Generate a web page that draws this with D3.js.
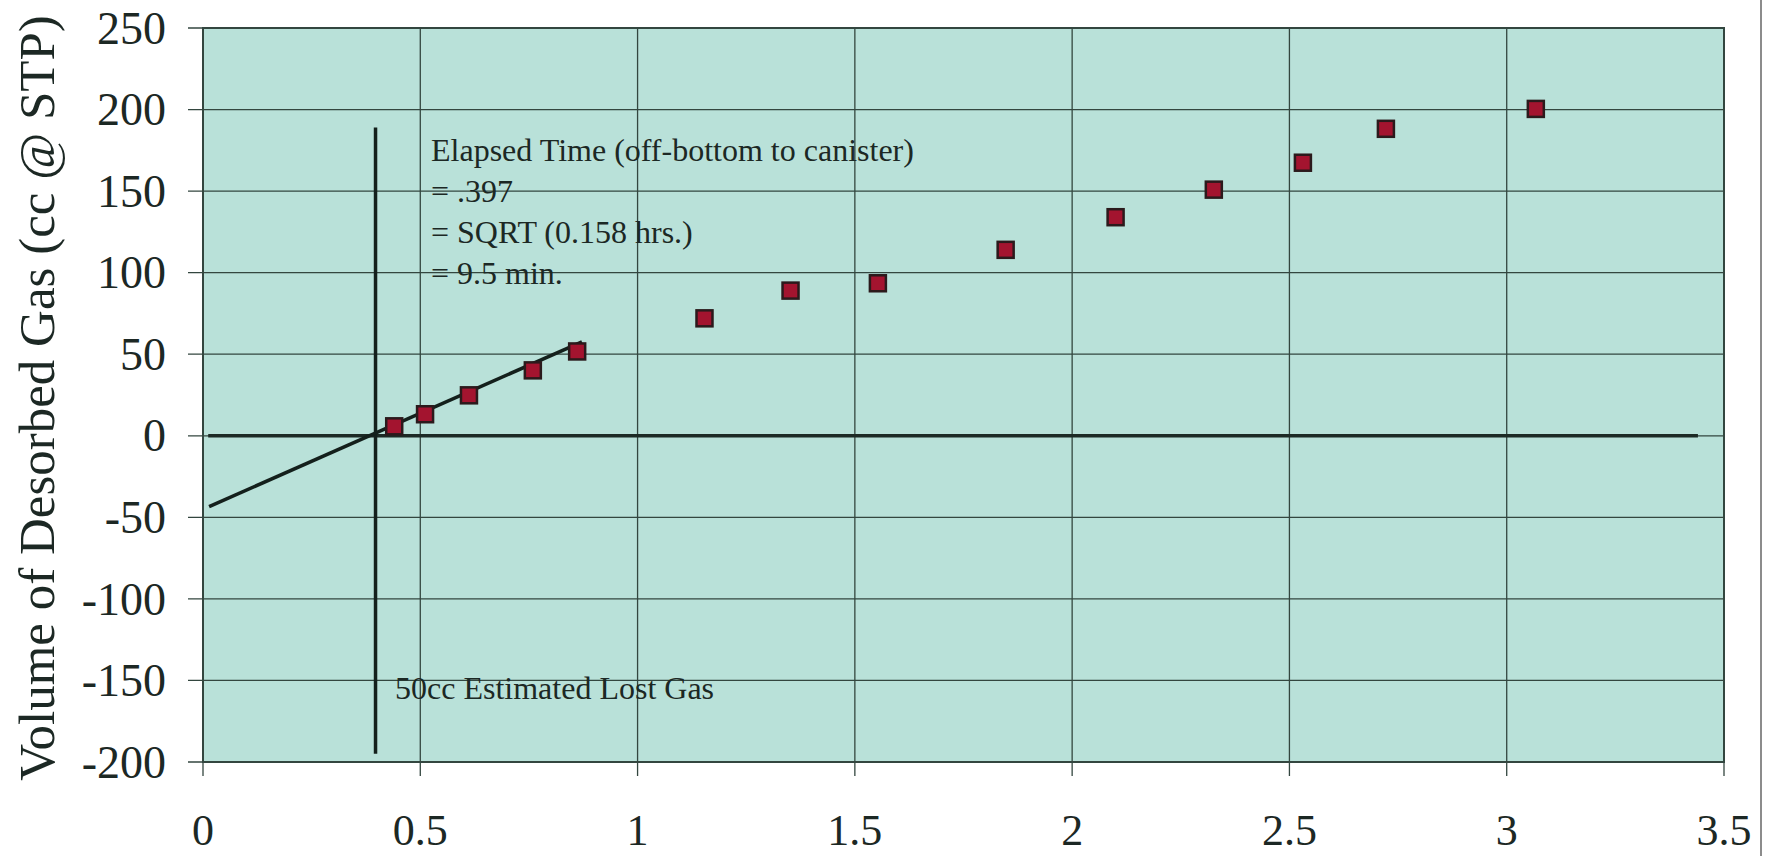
<!DOCTYPE html>
<html>
<head>
<meta charset="utf-8">
<script src="https://cdnjs.cloudflare.com/ajax/libs/d3/7.8.5/d3.min.js"></script>
<style>
  html, body { margin: 0; padding: 0; background: #fff; }
  svg { display: block; }
  text { font-family: "Liberation Serif", "Times New Roman", serif; fill: #1c2824; }
</style>
</head>
<body>
<svg id="chart" width="1775" height="856"></svg>
<script>
// desorbed gas readings, x = sqrt(time)
const sqrtTime = [0.44, 0.511, 0.612, 0.759, 0.861, 1.154, 1.352, 1.553, 1.847, 2.1, 2.326, 2.531, 2.722, 3.067]
const gasVolume = [5.8, 13.2, 24.8, 40.1, 51.7, 72, 89, 93.5, 114, 134, 150.9, 167.4, 188.2, 200.4]

// lost gas fit line, end points
const fitX = [0.014, 0.872]
const fitY = [-43.4, 57.6]

const elapsedX = 0.397
const elapsedY = [189, -195]
const zeroLineX = [0.012, 3.44]

const xTicks = [0, 0.5, 1, 1.5, 2, 2.5, 3, 3.5]
const yTicks = [-200, -150, -100, -50, 0, 50, 100, 150, 200, 250]

const noteLines = [
  'Elapsed Time (off-bottom to canister)',
  '= .397',
  '= SQRT (0.158 hrs.)',
  '= 9.5 min.'
]
const lostGasNote = '50cc Estimated Lost Gas'

const svg = d3.select('#chart')
const gridColor = '#33463f'

const x = d3.scaleLinear().domain([0, 3.5]).range([203, 1724])
const y = d3.scaleLinear().domain([-200, 250]).range([762, 28])

// plot background
svg.append('rect')
  .attr('x', x(0)).attr('y', y(250))
  .attr('width', x(3.5) - x(0)).attr('height', y(-200) - y(250))
  .attr('fill', '#b9e1d9')

// grid lines, with ticks reaching out of the plot
const grid = svg.append('g')
grid.selectAll('.hgrid')
  .data(yTicks)
  .enter().append('line')
  .attr('x1', x(0) - 15).attr('x2', x(3.5))
  .attr('y1', d => y(d)).attr('y2', d => y(d))
  .attr('stroke', gridColor)
  .attr('stroke-width', 1.3)
grid.selectAll('.vgrid')
  .data(xTicks)
  .enter().append('line')
  .attr('x1', d => x(d)).attr('x2', d => x(d))
  .attr('y1', y(250)).attr('y2', y(-200) + 14)
  .attr('stroke', gridColor)
  .attr('stroke-width', 1.3)

// plot border
svg.append('rect')
  .attr('x', x(0)).attr('y', y(250))
  .attr('width', x(3.5) - x(0)).attr('height', y(-200) - y(250))
  .attr('fill', 'none')
  .attr('stroke', gridColor)
  .attr('stroke-width', 2)

// tick labels
svg.append('g').selectAll('text')
  .data(yTicks)
  .enter().append('text')
  .attr('x', 166)
  .attr('y', d => y(d))
  .attr('dy', '0.34em')
  .attr('text-anchor', 'end')
  .attr('font-size', 46)
  .text(d => d)

svg.append('g').selectAll('text')
  .data(xTicks)
  .enter().append('text')
  .attr('x', d => x(d))
  .attr('y', 845)
  .attr('text-anchor', 'middle')
  .attr('font-size', 44)
  .text(d => d)

// axis title
svg.append('text')
  .attr('transform', 'translate(54,398) rotate(-90)')
  .attr('text-anchor', 'middle')
  .attr('font-size', 51)
  .text('Volume of Desorbed Gas (cc @ STP)')

// zero line and elapsed-time line
svg.append('line')
  .attr('x1', x(zeroLineX[0])).attr('x2', x(zeroLineX[1]))
  .attr('y1', y(0)).attr('y2', y(0))
  .attr('stroke', '#1c2a25')
  .attr('stroke-width', 3.5)

svg.append('line')
  .attr('x1', x(elapsedX)).attr('x2', x(elapsedX))
  .attr('y1', y(elapsedY[0])).attr('y2', y(elapsedY[1]))
  .attr('stroke', '#14201c')
  .attr('stroke-width', 3.5)

// fit line
svg.append('line')
  .attr('x1', x(fitX[0])).attr('y1', y(fitY[0]))
  .attr('x2', x(fitX[1])).attr('y2', y(fitY[1]))
  .attr('stroke', '#14201c')
  .attr('stroke-width', 3.5)

// markers
const size = 16
svg.append('g').selectAll('rect')
  .data(sqrtTime)
  .enter().append('rect')
  .attr('x', d => x(d) - size / 2)
  .attr('y', (d, i) => y(gasVolume[i]) - size / 2)
  .attr('width', size).attr('height', size)
  .attr('fill', '#a3142f')
  .attr('stroke', '#2b1a1c')
  .attr('stroke-width', 2.5)

// notes
svg.append('g').selectAll('text')
  .data(noteLines)
  .enter().append('text')
  .attr('x', 431)
  .attr('y', (d, i) => 161 + i * 41)
  .attr('font-size', 32)
  .text(d => d)

svg.append('text')
  .attr('x', 395).attr('y', 699)
  .attr('font-size', 32)
  .text(lostGasNote)

// page edge on the right
svg.append('line')
  .attr('x1', 1761).attr('x2', 1761)
  .attr('y1', 0).attr('y2', 856)
  .attr('stroke', '#666')
  .attr('stroke-width', 1.5)
</script>
</body>
</html>
